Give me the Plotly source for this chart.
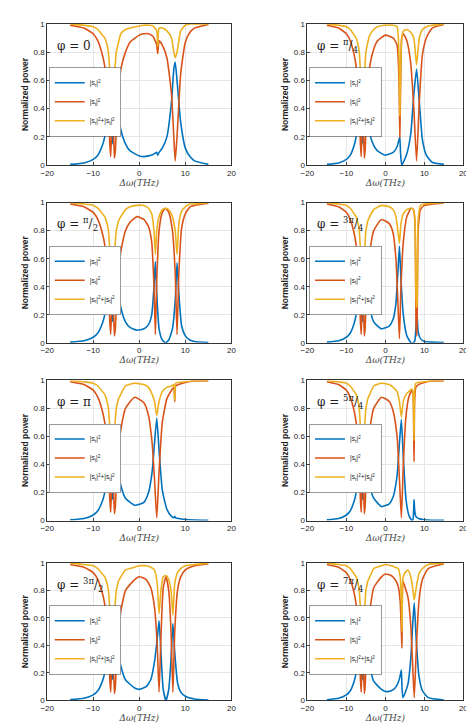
import plotly.graph_objects as go

BLUE, RED, YEL = "#0072BD", "#D95319", "#EDB120"

# shared left resonance pair (x < -4)
XL = [-15, -12, -10, -9, -8, -7.5, -7, -6.7, -6.4, -6.2, -6.0, -5.8, -5.6, -5.4, -5.2, -5.0, -4.8, -4.5]
RL = [0.005, 0.015, 0.04, 0.07, 0.14, 0.2, 0.3, 0.4, 0.52, 0.58, 0.35, 0.15, 0.35, 0.6, 0.62, 0.55, 0.45, 0.35]
TL = [0.99, 0.97, 0.93, 0.88, 0.78, 0.7, 0.55, 0.4, 0.15, 0.06, 0.25, 0.40, 0.25, 0.05, 0.1, 0.25, 0.37, 0.52]
SL = [1.0, 0.99, 0.98, 0.96, 0.92, 0.9, 0.85, 0.8, 0.67, 0.62, 0.58, 0.55, 0.58, 0.64, 0.72, 0.8, 0.83, 0.87]

labels = ["φ = 0", "φ = <sup>π</sup>/<sub>4</sub>", "φ = <sup>π</sup>/<sub>2</sub>", "φ = <sup>3π</sup>/<sub>4</sub>",
          "φ = π", "φ = <sup>5π</sup>/<sub>4</sub>", "φ = <sup>3π</sup>/<sub>2</sub>", "φ = <sup>7π</sup>/<sub>4</sub>"]

XR = [
 [-4,-3,-2,0,1,2,3,3.8,4.0,4.3,5,6,7,7.5,7.8,8.2,9,10,11,12,15],
 [-4,-3,-2,0,2,3,3.5,3.7,3.9,4.2,4.6,5.5,6.5,7.3,8.0,8.7,9.5,10.5,12,15],
 [-4,-3,-2,-0.5,1,2,2.7,3.2,3.5,3.8,4.3,5,5.7,6.4,7.2,7.8,8.2,8.6,9.2,10,11,12,15],
 [-4,-3,-1,1,2,2.7,3.2,3.6,4.0,4.6,5.5,6.6,7.2,7.6,7.9,8.1,8.4,9,10,12,15],
 [-4,-3,-1,1,2,2.8,3.3,3.8,4.3,5,6,7,7.5,7.7,7.9,8.5,10,12,15],
 [-4,-3,-1,1,2,3,3.6,4.1,4.6,5.3,6,6.8,7.1,7.35,7.5,7.8,8.5,10,12,15],
 [-4,-3,-1,0,1.5,2.5,3.3,3.9,4.3,4.7,5.2,5.8,6.4,6.9,7.3,7.7,8.3,9,10,12,15],
 [-4,-3,-1,0,1.5,2.5,3.3,3.8,4.1,4.25,4.5,5,5.8,6.5,7.0,7.4,7.9,8.6,9.5,11,15],
]
RR = [
 [0.25,0.15,0.1,0.065,0.06,0.065,0.075,0.09,0.07,0.09,0.12,0.2,0.45,0.68,0.73,0.6,0.3,0.12,0.06,0.03,0.005],
 [0.22,0.14,0.1,0.07,0.09,0.13,0.18,0.2,0.08,0.0,0.02,0.08,0.22,0.5,0.68,0.45,0.18,0.07,0.02,0.005],
 [0.25,0.15,0.11,0.09,0.1,0.13,0.2,0.4,0.58,0.35,0.1,0.02,0.0,0.02,0.1,0.3,0.57,0.35,0.12,0.05,0.02,0.01,0.003],
 [0.25,0.15,0.1,0.12,0.17,0.28,0.5,0.69,0.45,0.2,0.05,0.0,0.0,0.02,0.15,0.22,0.08,0.03,0.01,0.005,0.002],
 [0.25,0.16,0.11,0.13,0.2,0.35,0.55,0.73,0.5,0.22,0.08,0.03,0.02,0.03,0.02,0.015,0.008,0.004,0.002],
 [0.25,0.16,0.1,0.12,0.17,0.32,0.55,0.72,0.45,0.15,0.04,0.0,0.01,0.15,0.08,0.03,0.015,0.006,0.003,0.002],
 [0.25,0.15,0.09,0.08,0.1,0.15,0.28,0.45,0.58,0.35,0.08,0.0,0.08,0.3,0.56,0.35,0.13,0.06,0.03,0.01,0.003],
 [0.25,0.14,0.08,0.065,0.07,0.09,0.13,0.18,0.22,0.1,0.02,0.05,0.12,0.3,0.55,0.71,0.45,0.18,0.07,0.02,0.003],
]
TR = [
 [0.68,0.8,0.87,0.92,0.93,0.93,0.91,0.85,0.79,0.88,0.85,0.76,0.5,0.2,0.03,0.2,0.65,0.87,0.94,0.97,0.995],
 [0.7,0.82,0.88,0.92,0.9,0.85,0.6,0.2,0.55,0.9,0.93,0.88,0.72,0.4,0.03,0.45,0.78,0.9,0.97,0.995],
 [0.65,0.8,0.86,0.9,0.88,0.83,0.72,0.4,0.06,0.45,0.8,0.93,0.96,0.93,0.8,0.5,0.06,0.5,0.82,0.92,0.97,0.98,0.995],
 [0.65,0.8,0.88,0.85,0.78,0.6,0.3,0.03,0.4,0.72,0.9,0.96,0.95,0.85,0.1,0.05,0.8,0.95,0.98,0.99,0.998],
 [0.65,0.8,0.88,0.84,0.75,0.55,0.3,0.02,0.35,0.7,0.87,0.93,0.95,0.85,0.96,0.97,0.985,0.995,0.998],
 [0.65,0.8,0.88,0.85,0.78,0.6,0.3,0.02,0.4,0.75,0.88,0.93,0.9,0.42,0.85,0.95,0.97,0.985,0.995,0.998],
 [0.65,0.8,0.88,0.9,0.88,0.82,0.68,0.4,0.06,0.45,0.82,0.9,0.8,0.5,0.06,0.5,0.8,0.9,0.95,0.98,0.995],
 [0.65,0.82,0.9,0.92,0.91,0.88,0.83,0.72,0.5,0.38,0.87,0.83,0.75,0.55,0.25,0.02,0.35,0.72,0.88,0.96,0.995],
]
SR = [
 [0.93,0.96,0.97,0.985,0.99,0.99,0.985,0.95,0.84,0.97,0.97,0.95,0.9,0.8,0.76,0.8,0.95,0.99,1.0,1.0,1.0],
 [0.92,0.96,0.98,0.99,0.99,0.98,0.78,0.35,0.63,0.9,0.95,0.96,0.94,0.9,0.71,0.9,0.96,0.98,0.99,1.0],
 [0.9,0.95,0.97,0.98,0.98,0.96,0.92,0.8,0.63,0.8,0.9,0.95,0.96,0.95,0.9,0.8,0.63,0.85,0.94,0.97,0.99,0.99,1.0],
 [0.9,0.95,0.98,0.97,0.95,0.9,0.8,0.71,0.85,0.92,0.95,0.96,0.95,0.87,0.25,0.27,0.88,0.98,0.99,0.995,1.0],
 [0.9,0.96,0.98,0.97,0.95,0.9,0.85,0.75,0.85,0.92,0.95,0.96,0.97,0.86,0.98,0.985,0.99,0.998,1.0],
 [0.9,0.96,0.98,0.97,0.95,0.92,0.85,0.74,0.85,0.9,0.92,0.94,0.91,0.57,0.93,0.98,0.985,0.99,0.998,1.0],
 [0.9,0.95,0.97,0.98,0.98,0.97,0.95,0.85,0.63,0.8,0.9,0.91,0.88,0.8,0.62,0.85,0.93,0.96,0.98,0.99,1.0],
 [0.9,0.96,0.98,0.99,0.98,0.97,0.96,0.9,0.72,0.5,0.89,0.93,0.95,0.9,0.82,0.73,0.82,0.92,0.96,0.99,1.0],
]

names = ["|s<sub>r</sub>|<sup>2</sup>", "|s<sub>t</sub>|<sup>2</sup>",
         "|s<sub>r</sub>|<sup>2</sup>+|s<sub>t</sub>|<sup>2</sup>"]

W, H = 474, 726
xdom = [(33, 222), (300, 460)]
ydom = [(12, 155), (193, 335), (373, 515), (558, 697)]

fig = go.Figure()
lay = dict(width=W, height=H, margin=dict(l=0, r=0, t=0, b=0),
           plot_bgcolor="white", paper_bgcolor="white", showlegend=True)
ann = []
for i in range(8):
    row, col = divmod(i, 2)
    k = "" if i == 0 else str(i + 1)
    x = XL + XR[i]
    ys = [RL + RR[i], TL + TR[i], SL + SR[i]]
    lg = "legend" + k
    for j, (y, c) in enumerate(zip(ys, [BLUE, RED, YEL])):
        fig.add_trace(go.Scatter(x=x, y=y, mode="lines", name=names[j],
                                 line=dict(color=c, width=1.6, shape="spline", smoothing=0.5),
                                 xaxis="x" + k, yaxis="y" + k, legend=lg))
    x0, x1 = xdom[col]; y0, y1 = ydom[row]
    dx = [x0 / W, x1 / W]; dy = [1 - y1 / H, 1 - y0 / H]
    ax = dict(domain=dx, range=[-20, 20], tickvals=[-20, -10, 0, 10, 20], showgrid=True,
              gridcolor="#e6e6e6", showline=True, mirror=True, linecolor="#333", linewidth=0.8,
              ticks="inside", ticklen=3, zeroline=False, tickfont=dict(size=8, family="Arial", color="#222"),
              title=dict(text="<i>Δω(THz)</i>", font=dict(size=9, family="DejaVu Serif", color="#444"), standoff=2),
              anchor="y" + k)
    ay = dict(domain=dy, range=[0, 1], tickvals=[0, 0.2, 0.4, 0.6, 0.8, 1],
              ticktext=["0", "0.2", "0.4", "0.6", "0.8", "1"], showgrid=True,
              gridcolor="#e6e6e6", showline=True, mirror=True, linecolor="#333", linewidth=0.8,
              ticks="inside", ticklen=3, zeroline=False, tickfont=dict(size=8, family="Arial", color="#222"),
              title=dict(text="<b>Normalized power</b>", font=dict(size=8.5, family="Arial", color="#222"), standoff=3),
              anchor="x" + k)
    lay["xaxis" + k] = ax
    lay["yaxis" + k] = ay
    lay[lg] = dict(x=dx[0] + 2 / W, y=dy[0] + (dy[1] - dy[0]) * 0.69, xanchor="left", yanchor="top",
                   bgcolor="white", bordercolor="#555", borderwidth=0.6,
                   font=dict(size=6.5, family="Arial", color="#222"), tracegroupgap=0,
                   itemwidth=30, traceorder="normal", entrywidth=0)
    ann.append(dict(text=labels[i], x=dx[0] + 8 / W, y=dy[1] - 22 / H, xref="paper", yref="paper",
                    xanchor="left", yanchor="middle", showarrow=False,
                    font=dict(size=12, family="DejaVu Serif", color="#222")))
lay["annotations"] = ann
fig.update_layout(**lay)
fig.write_html("out.html")
